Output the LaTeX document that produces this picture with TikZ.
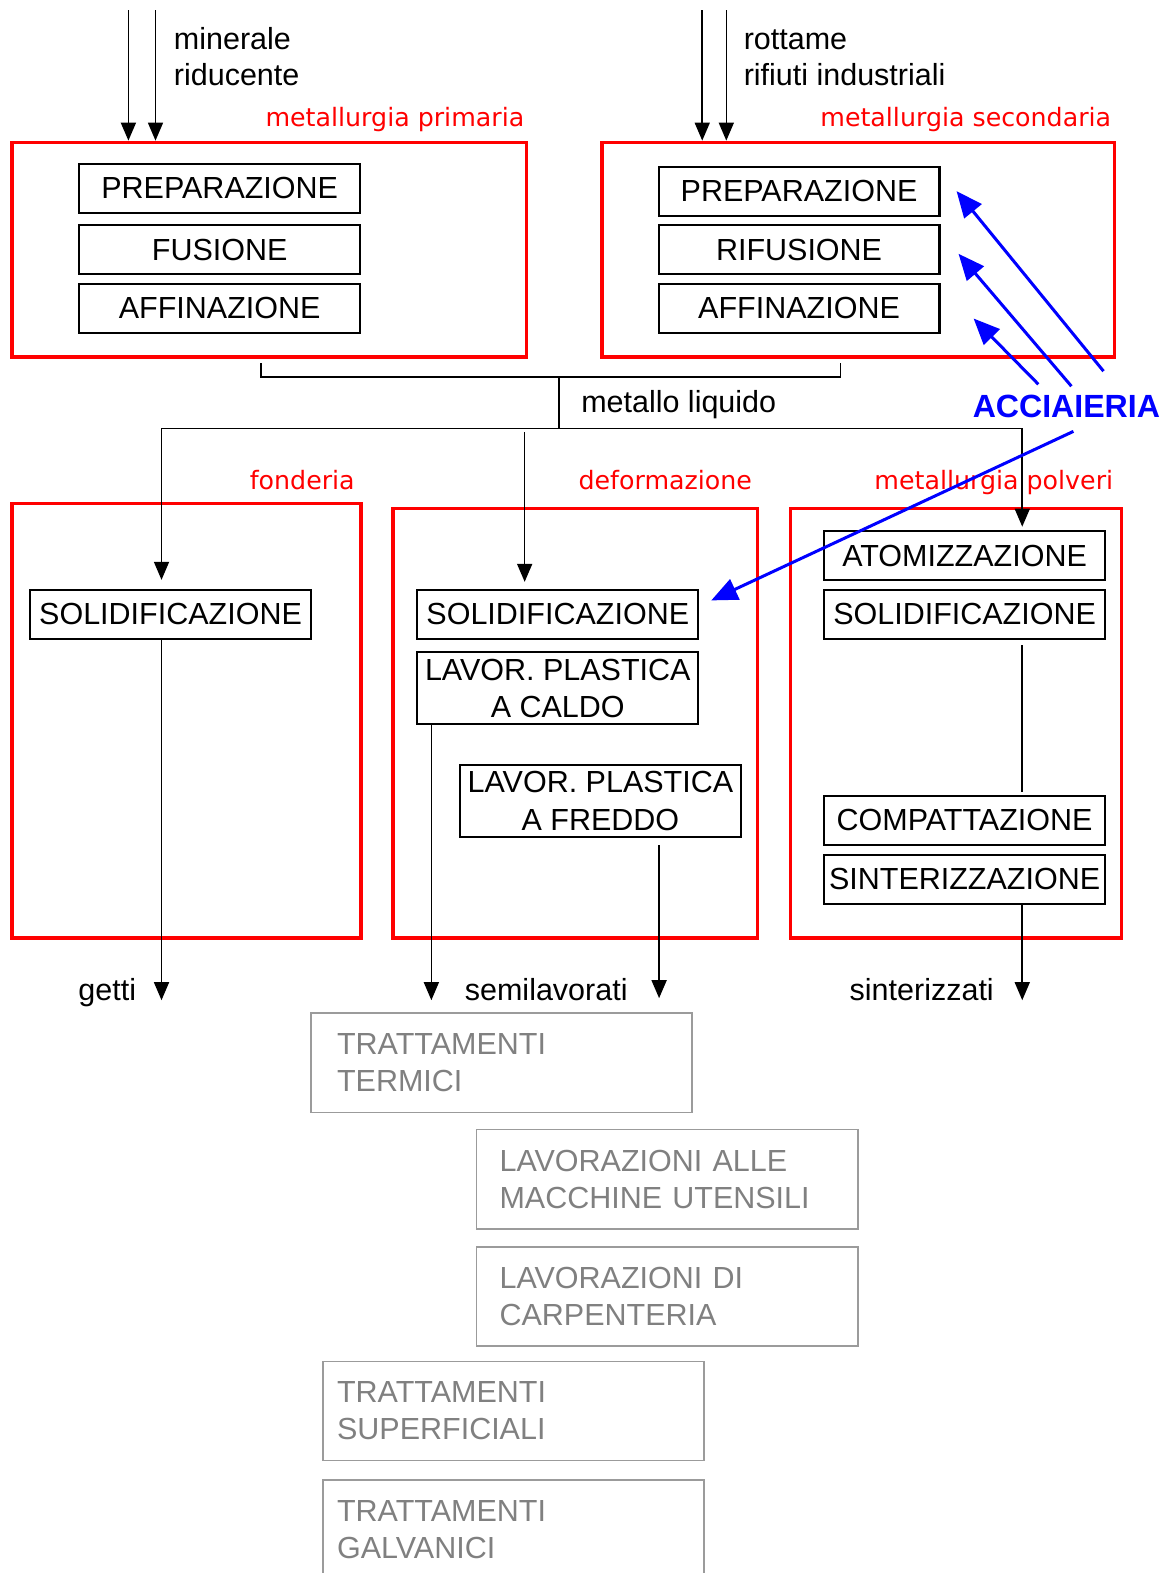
\documentclass[tikz,border=0pt]{standalone}
\usepackage{fontspec}
\setmainfont{Liberation Sans}
\newfontfamily\redfont{DejaVu Sans}
\usetikzlibrary{arrows.meta}
\definecolor{redc}{RGB}{255,0,0}
\definecolor{bluec}{RGB}{0,0,255}
\definecolor{grayt}{RGB}{128,128,128}
\definecolor{grayb}{RGB}{155,155,155}
\begin{document}
\begin{tikzpicture}[x=0.5pt,y=-0.5pt,
  every node/.style={font=\fontsize{15.2}{18.5}\selectfont, inner sep=0pt},
  pbox/.style={draw, line width=1pt, minimum width=140pt, minimum height=24.5pt, align=center},
  pboxtwo/.style={pbox, minimum height=36pt},
  gbox/.style={draw=grayb, line width=0.8pt, text=grayt, minimum width=190pt, minimum height=49.5pt, align=left},
  redbox/.style={draw=redc, line width=1.8pt},
  redlab/.style={text=redc, font=\redfont\fontsize{12.6}{15}\selectfont, anchor=base east},
  lab/.style={anchor=base west},
  conn/.style={line width=0.8pt},
  arr/.style={conn, -{Triangle[length=9pt,width=7.5pt]}},
  barr/.style={draw=bluec, line width=1.5pt, -{Triangle[length=13pt,width=11pt]}},
]
\useasboundingbox (0,0) rectangle (1168,1568);

% ---------- red frames ----------
\node[redbox, minimum width=256.5pt, minimum height=107pt] (rb1) at (268.5,249) {};
\node[redbox, minimum width=255.5pt, minimum height=107pt] (rb2) at (855.5,249) {};
\node[redbox, minimum width=174pt, minimum height=216.5pt] (rb3) at (186,718.5) {};
\node[redbox, minimum width=181.5pt, minimum height=214pt] (rb4) at (573.5,721) {};
\node[redbox, minimum width=165pt, minimum height=214pt] (rb5) at (953,721) {};

% ---------- red labels ----------
\node[redlab] (l1) at (523,126) {metallurgia primaria};
\node[redlab] (l2) at (1108,126) {metallurgia secondaria};
\node[redlab] (l3) at (354,488) {fonderia};
\node[redlab] (l4) at (750,488) {deformazione};
\node[redlab] (l5) at (1110,488) {metallurgia polveri};

% ---------- process boxes ----------
\node[pbox] (lprep) at (219,187.5) {PREPARAZIONE};
\node[pbox] (lfus)  at (219,249) {FUSIONE};
\node[pbox] (laff)  at (219,307.5) {AFFINAZIONE};

\node[pbox] (rprep) at (796.5,190.5) {PREPARAZIONE};
\node[pbox] (rrif)  at (796.5,249) {RIFUSIONE};
\node[pbox] (raff)  at (796.5,307.5) {AFFINAZIONE};

\node[pbox] (fsol) at (170,612.5) {SOLIDIFICAZIONE};

\node[pbox] (dsol) at (556,612.5) {SOLIDIFICAZIONE};
\node[pboxtwo] (caldo) at (556,686) {LAVOR. PLASTICA\\A CALDO};
\node[pboxtwo] (freddo) at (598.5,798.5) {LAVOR. PLASTICA\\A FREDDO};

\node[pbox] (atom) at (961.5,554) {ATOMIZZAZIONE};
\node[pbox] (psol) at (961.5,612.5) {SOLIDIFICAZIONE};
\node[pbox] (comp) at (961.5,817.5) {COMPATTAZIONE};
\node[pbox] (sint) at (961.5,876.5) {SINTERIZZAZIONE};

% ---------- text labels ----------
\node[lab] (min1) at (173,49) {minerale};
\node[lab] (min2) at (173,85) {riducente};
\node[lab] (rot1) at (741,49) {rottame};
\node[lab] (rot2) at (741,85) {rifiuti industriali};
\node[lab] (ml) at (579,411) {metallo liquido};
\node[anchor=base east] (getti) at (136,997) {getti};
\node[lab] (semi) at (463,997) {semilavorati};
\node[anchor=base east] (sinz) at (991,997) {sinterizzati};
\node[text=bluec, font=\fontsize{16}{19}\selectfont\bfseries] (acc) at (1063,405) {ACCIAIERIA};

% ---------- grey boxes ----------
\node[gbox, text width=164pt] (g1) at (500,1059.5) {TRATTAMENTI\\TERMICI};
\node[gbox, text width=167pt] (g2) at (665,1175.5) {LAVORAZIONI ALLE\\MACCHINE UTENSILI};
\node[gbox, text width=167pt] (g3) at (665,1292.5) {LAVORAZIONI DI\\CARPENTERIA};
\node[gbox, text width=176pt] (g4) at (512,1406.5) {TRATTAMENTI\\SUPERFICIALI};
\node[gbox, text width=176pt] (g5) at (512,1524.5) {TRATTAMENTI\\GALVANICI};

% ---------- input arrows ----------
\coordinate (in1) at (128,10);
\coordinate (in2) at (155,10);
\coordinate (in3) at (700,10);
\coordinate (in4) at (724,10);
\draw[arr] (in1) -- (in1 |- rb1.north);
\draw[arr] (in2) -- (in2 |- rb1.north);
\draw[arr] (in3) -- (in3 |- rb2.north);
\draw[arr] (in4) -- (in4 |- rb2.north);

% ---------- collector bracket ----------
\coordinate (brL) at (260,362);
\coordinate (brR) at (838,362);
\coordinate (brM) at (557,376);
\coordinate (sp) at (557,427);
\draw[conn] (brL) |- (brM) -| (brR);
\draw[conn] (brM) -- (sp);

\coordinate (tipF) at (161,578);
\coordinate (tipP) at (1019,525);
\coordinate (midS) at (523,431);
\coordinate (tipD) at (523,580);
\draw[arr] (sp) -| (tipF);
\draw[arr] (sp) -| (tipP);
\draw[arr] (midS) -- (tipD);

% ---------- outputs ----------
\coordinate (tipG) at (161,997);
\draw[arr] (fsol.south -| tipG) -- (tipG);

\coordinate (tipS1) at (430,997);
\coordinate (tipS2) at (657,995);
\draw[arr] (caldo.south -| tipS1) -- (tipS1);
\draw[arr] ([yshift=-3.5pt]freddo.south -| tipS2) -- (tipS2);

\coordinate (tipSi) at (1019,997);
\draw[conn] ([yshift=-2.5pt]psol.south -| tipSi) -- ([yshift=1.5pt]comp.north -| tipSi);
\draw[arr] (sint.south -| tipSi) -- (tipSi);

% ---------- ACCIAIERIA arrows ----------
\coordinate (t1) at (1100,370);
\coordinate (t2) at (1068,385);
\coordinate (t3) at (1035,383);
\coordinate (t4) at (1070,430);
\draw[barr] (t1) -- ([xshift=8pt]rprep.east);
\draw[barr] (t2) -- ([xshift=9pt,yshift=-2pt]rrif.east);
\draw[barr] (t3) -- ([xshift=16.5pt,yshift=-5pt]raff.east);
\draw[barr] (t4) -- ([xshift=6pt,yshift=7pt]dsol.east);
\end{tikzpicture}
\end{document}
